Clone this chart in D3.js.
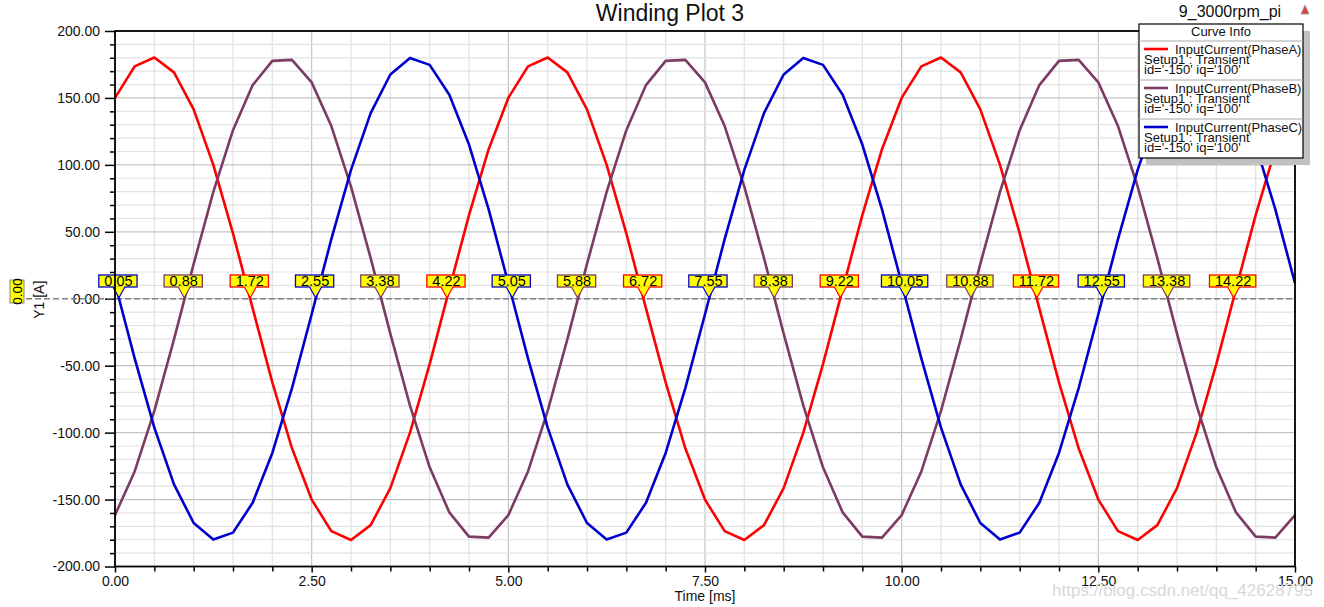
<!DOCTYPE html>
<html><head><meta charset="utf-8">
<script src="https://cdn.jsdelivr.net/npm/d3@7/dist/d3.min.js"></script>
<style>
body{margin:0;background:#fff;}
svg{display:block;font-family:Arial,"Liberation Sans",sans-serif;}
</style>
</head><body>
<svg id="chart" width="1324" height="607"></svg>
<script>
// ---------- data ----------
const timeMs = [0,0.25,0.5,0.75,1,1.25,1.5,1.75,2,2.25,2.5,2.75,3,3.25,3.5,3.75,4,4.25,4.5,4.75,
  5,5.25,5.5,5.75,6,6.25,6.5,6.75,7,7.25,7.5,7.75,8,8.25,8.5,8.75,9,9.25,9.5,9.75,
  10,10.25,10.5,10.75,11,11.25,11.5,11.75,12,12.25,12.5,12.75,13,13.25,13.5,13.75,14,14.25,14.5,14.75,15];
const phaseA = [150.0,173.6,180.2,169.1,141.5,100.0,48.8,-7.2,-62.5,-111.7,-150.0,-173.6,-180.2,-169.1,-141.5,-100.0,-48.8,7.2,62.5,111.7,
  150.0,173.6,180.2,169.1,141.5,100.0,48.8,-7.2,-62.5,-111.7,-150.0,-173.6,-180.2,-169.1,-141.5,-100.0,-48.8,7.2,62.5,111.7,
  150.0,173.6,180.2,169.1,141.5,100.0,48.8,-7.2,-62.5,-111.7,-150.0,-173.6,-180.2,-169.1,-141.5,-100.0,-48.8,7.2,62.5,111.7,150.0];
const phaseB = [-161.6,-129.0,-83.8,-30.4,26.0,79.9,125.9,159.6,177.7,178.4,161.6,129.0,83.8,30.4,-26.0,-79.9,-125.9,-159.6,-177.7,-178.4,
  -161.6,-129.0,-83.8,-30.4,26.0,79.9,125.9,159.6,177.7,178.4,161.6,129.0,83.8,30.4,-26.0,-79.9,-125.9,-159.6,-177.7,-178.4,
  -161.6,-129.0,-83.8,-30.4,26.0,79.9,125.9,159.6,177.7,178.4,161.6,129.0,83.8,30.4,-26.0,-79.9,-125.9,-159.6,-177.7,-178.4,-161.6];
const phaseC = [11.6,-44.5,-96.3,-138.7,-167.5,-179.9,-174.7,-152.4,-115.2,-66.7,-11.6,44.5,96.3,138.7,167.5,179.9,174.7,152.4,115.2,66.7,
  11.6,-44.5,-96.3,-138.7,-167.5,-179.9,-174.7,-152.4,-115.2,-66.7,-11.6,44.5,96.3,138.7,167.5,179.9,174.7,152.4,115.2,66.7,
  11.6,-44.5,-96.3,-138.7,-167.5,-179.9,-174.7,-152.4,-115.2,-66.7,-11.6,44.5,96.3,138.7,167.5,179.9,174.7,152.4,115.2,66.7,11.6];

const seriesNames = ["InputCurrent(PhaseA)","InputCurrent(PhaseB)","InputCurrent(PhaseC)"];
const seriesKeys = ["A","B","C"];
const setupLine = "Setup1 : Transient";
const paramLine = "id='-150' iq='100'";

const markerTimes = [0.05,0.88,1.72,2.55,3.38,4.22,5.05,5.88,6.72,7.55,8.38,9.22,10.05,10.88,11.72,12.55,13.38,14.22];
const markerLabels = ["0.05","0.88","1.72","2.55","3.38","4.22","5.05","5.88","6.72","7.55","8.38","9.22","10.05","10.88","11.72","12.55","13.38","14.22"];
const markerPhase = ["C","B","A","C","B","A","C","B","A","C","B","A","C","B","A","C","B","A"];

const yTickValues = [200,150,100,50,0,-50,-100,-150,-200];
const yTickLabels = ["200.00","150.00","100.00","50.00","0.00","-50.00","-100.00","-150.00","-200.00"];
const xTickValues = [0,2.5,5,7.5,10,12.5,15];
const xTickLabels = ["0.00","2.50","5.00","7.50","10.00","12.50","15.00"];

const titleText = "Winding Plot 3";
const subTitleText = "9_3000rpm_pi";
const xAxisTitle = "Time [ms]";
const yAxisTitle = "Y1 [A]";
const yMarkerLabel = "0.00";
const watermark = "https://blog.csdn.net/qq_42628795";

// ---------- drawing ----------
const colors = {A:"#ff0000", B:"#7b3b62", C:"#0000cc"};
const seriesData = {A:phaseA, B:phaseB, C:phaseC};

const svg = d3.select("#chart");
const L = 115, R = 1295, T = 31, B = 566.5;
const x = d3.scaleLinear().domain([0,15]).range([L,R]);
const y = d3.scaleLinear().domain([-200,200]).range([B,T]);

// grid
const g = svg.append("g");
const xMinor = d3.range(0, 15.0001, 0.5);
const yMinor = d3.range(-200, 200.0001, 10);
g.selectAll("line.xm").data(xMinor).join("line")
  .attr("x1", d=>x(d)).attr("x2", d=>x(d)).attr("y1", T).attr("y2", B)
  .attr("stroke", d => (Math.abs(d/2.5 - Math.round(d/2.5))<1e-6) ? "#c4c4c4" : "#e2e2e2").attr("stroke-width",1.2);
g.selectAll("line.ym").data(yMinor).join("line")
  .attr("y1", d=>y(d)).attr("y2", d=>y(d)).attr("x1", L).attr("x2", R)
  .attr("stroke", d => (d % 50 === 0) ? "#c4c4c4" : "#e2e2e2").attr("stroke-width",1.2);

// axis ticks
const yAxis = d3.axisLeft(y).tickValues(yTickValues).tickFormat((d,i)=>yTickLabels[i]).tickSize(10).tickPadding(5);
const yAx = svg.append("g").attr("transform",`translate(${L},0)`).call(yAxis);
yAx.select(".domain").remove();
yAx.selectAll("line").attr("stroke","#000").attr("stroke-width",1.5);
yAx.selectAll("text").attr("font-size",14).attr("fill","#111").attr("font-family","Arial, Liberation Sans, sans-serif");
const yMinorAxis = d3.axisLeft(y).tickValues(yMinor.filter(d=>d%50!==0)).tickSize(5).tickFormat("");
const yAx2 = svg.append("g").attr("transform",`translate(${L},0)`).call(yMinorAxis);
yAx2.select(".domain").remove();
yAx2.selectAll("line").attr("stroke","#000").attr("stroke-width",1.5);

const xAxis = d3.axisBottom(x).tickValues(xTickValues).tickFormat((d,i)=>xTickLabels[i]).tickSize(6).tickPadding(4);
const xAx = svg.append("g").attr("transform",`translate(0,${B})`).call(xAxis);
xAx.select(".domain").remove();
xAx.selectAll("line").attr("stroke","#000").attr("stroke-width",1.5);
xAx.selectAll("text").attr("font-size",14).attr("fill","#111").attr("font-family","Arial, Liberation Sans, sans-serif");
const xMinorAxis = d3.axisBottom(x).tickValues(xMinor.filter(d=>Math.abs(d/2.5-Math.round(d/2.5))>1e-6)).tickSize(5).tickFormat("");
const xAx2 = svg.append("g").attr("transform",`translate(0,${B})`).call(xMinorAxis);
xAx2.select(".domain").remove();
xAx2.selectAll("line").attr("stroke","#000").attr("stroke-width",1.5);

// zero dashed line
svg.append("line").attr("x1",26).attr("x2",R).attr("y1",y(0)).attr("y2",y(0))
  .attr("stroke","#808080").attr("stroke-width",1.3).attr("stroke-dasharray","6,3");

// curves
const line = d3.line().x((d,i)=>x(timeMs[i])).y(d=>y(d));
seriesKeys.forEach(k=>{
  svg.append("path").datum(seriesData[k]).attr("d", line)
    .attr("fill","none").attr("stroke",colors[k]).attr("stroke-width",2.6).attr("stroke-linejoin","round");
});

// markers
const mg = svg.append("g");
markerTimes.forEach((t,i)=>{
  const cx = x(t), col = colors[markerPhase[i]];
  const top = 275, bot = 287, tipY = y(0) - 1;
  const txt = mg.append("text").attr("x",cx - 0.5).attr("y",286).attr("text-anchor","middle")
    .attr("font-size",14.5).attr("fill","#000").text(markerLabels[i]);
  const w = txt.node().getComputedTextLength() + 10;
  mg.insert("rect", () => txt.node()).attr("x",cx - w/2 - 1).attr("y",top).attr("width",w).attr("height",bot-top)
    .attr("fill","#ffff00").attr("stroke",col).attr("stroke-width",1.3);
  mg.insert("path", () => txt.node()).attr("d",`M${cx-6},${bot-0.8} L${cx},${tipY} L${cx+6},${bot-0.8} Z`).attr("fill","#ffff00");
  mg.insert("path", () => txt.node()).attr("d",`M${cx-6},${bot} L${cx},${tipY} L${cx+6},${bot}`).attr("fill","none")
    .attr("stroke",col).attr("stroke-width",1.2);
});

// frame
svg.append("rect").attr("x",L).attr("y",T).attr("width",R-L).attr("height",B-T)
  .attr("fill","none").attr("stroke","#000").attr("stroke-width",1.8);

// titles
svg.append("text").attr("x",670).attr("y",21).attr("text-anchor","middle").attr("font-size",23).attr("fill","#111").text(titleText);
svg.append("text").attr("x",1230).attr("y",17).attr("text-anchor","middle").attr("font-size",16).attr("fill","#111").text(subTitleText);
// small red icon
svg.append("path").attr("d","M1305,5 L1301,14 L1309,14 Z").attr("fill","#e04040").attr("stroke","#999").attr("stroke-width",0.8);

svg.append("text").attr("x",x(7.5)).attr("y",601).attr("text-anchor","middle").attr("font-size",14).attr("fill","#111").text(xAxisTitle);
svg.append("text").attr("transform",`translate(44,${y(0)+1}) rotate(-90)`).attr("text-anchor","middle").attr("font-size",14).attr("fill","#111").text(yAxisTitle);

// y marker label
svg.append("rect").attr("x",10).attr("y",280).attr("width",14).attr("height",23).attr("fill","#ffff00").attr("stroke","#888").attr("stroke-width",1);
svg.append("text").attr("transform",`translate(22,${291.5}) rotate(-90)`).attr("text-anchor","middle").attr("font-size",13.5).attr("fill","#000").text(yMarkerLabel);

// legend
const lx = 1139, ly = 24, lw = 164, lh = 134;
svg.append("rect").attr("x",lx+7).attr("y",ly+7).attr("width",lw).attr("height",lh).attr("fill","#c0c0c0");
svg.append("rect").attr("x",lx).attr("y",ly).attr("width",lw).attr("height",lh).attr("fill","#fff").attr("stroke","#000").attr("stroke-width",1.2);
svg.append("text").attr("x",lx+lw/2).attr("y",36).attr("text-anchor","middle").attr("font-size",13).attr("fill","#111").text("Curve Info");
seriesKeys.forEach((k,i)=>{
  const oy = i*39;
  svg.append("line").attr("x1",lx).attr("x2",lx+lw).attr("y1",41+oy).attr("y2",41+oy).attr("stroke","#a8a8a8").attr("stroke-width",1);
  svg.append("line").attr("x1",1144).attr("x2",1168).attr("y1",49+oy).attr("y2",49+oy).attr("stroke",colors[k]).attr("stroke-width",2.6);
  svg.append("text").attr("x",1175).attr("y",53.5+oy).attr("font-size",13).attr("fill","#111").text(seriesNames[i]);
  svg.append("text").attr("x",1144).attr("y",64+oy).attr("font-size",13).attr("fill","#111").text(setupLine);
  svg.append("text").attr("x",1144).attr("y",74+oy).attr("font-size",13).attr("fill","#111").text(paramLine);
});

// watermark
svg.append("text").attr("x",1313).attr("y",596).attr("text-anchor","end").attr("font-size",17).attr("fill","#d8d8d8").text(watermark);
</script>
</body></html>
